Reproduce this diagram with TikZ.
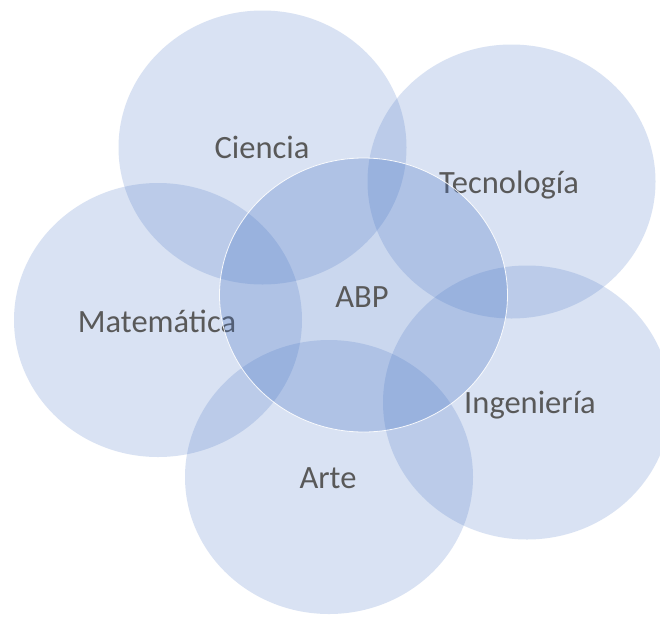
\documentclass[tikz,border=0pt]{standalone}
\usepackage{fontspec}
\setmainfont{Carlito}
\usetikzlibrary{shapes.geometric}
\definecolor{bubblefill}{HTML}{4472C4}
\definecolor{labeltext}{HTML}{595959}
\tikzset{
  bubble/.style={ellipse, minimum width=288pt, minimum height=274pt, inner sep=0pt,
    fill=bubblefill, fill opacity=0.2, draw=none},
  core/.style={bubble, fill opacity=0.28, draw=white, draw opacity=0.9, line width=0.8pt},
  lbl/.style={anchor=base, text=labeltext, inner sep=0pt,
    font=\fontsize{32.5}{39}\selectfont}
}
\begin{document}
\begin{tikzpicture}[x=1pt,y=-1pt]
\useasboundingbox (0,0) rectangle (660,616);
\clip (0,0) rectangle (660,616);
\fill[white] (0,0) rectangle (660,616);
% outer bubbles with their labels
\node[bubble] (ciencia) at (262.5,147.5) {};
\node[lbl] (tciencia) at (262,158) {Ciencia};
\node[bubble] (tecno) at (511.5,181.5) {};
\node[lbl] (ttecno) at (509,193) {Tecnología};
\node[bubble] (mate) at (158,320) {};
\node[lbl] (tmate) at (157,332) {Matemática};
\node[bubble] (inge) at (527,402.5) {};
\node[lbl] (tinge) at (530,413) {Ingeniería};
\node[bubble] (arte) at (329,477) {};
\node[lbl] (tarte) at (328,488) {Arte};
% central bubble
\node[core] (abp) at (363.5,295) {};
\node[lbl] (tabp) at (362,307) {ABP};
\end{tikzpicture}
\end{document}
